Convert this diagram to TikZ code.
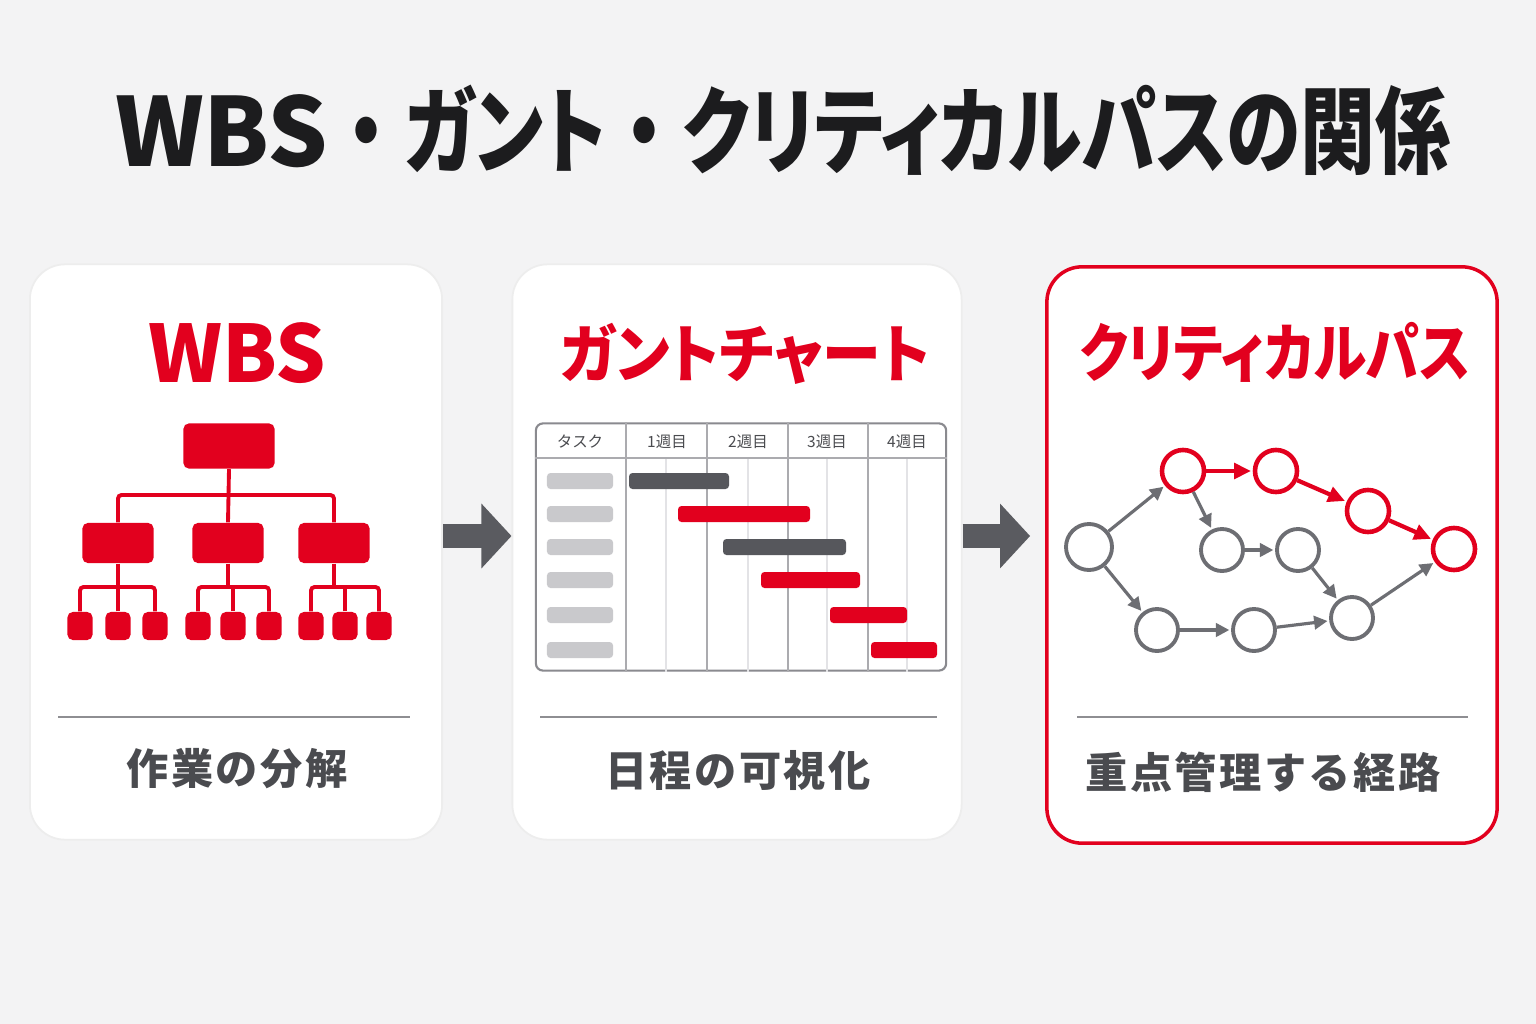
\documentclass[tikz,border=0pt]{standalone}
\usepackage{fontspec}
\usepackage{graphicx}
\setmainfont{Noto Sans CJK JP}
\newfontfamily\jpfont{Noto Sans CJK JP}[RawFeature=+palt]
\newfontfamily\capfont{Noto Sans CJK JP}[LetterSpace=6]
\usepackage{tikz}
\usetikzlibrary{arrows.meta,positioning}
\definecolor{pagebg}{HTML}{F3F3F4}
\definecolor{brandred}{HTML}{E2001E}
\definecolor{titleink}{HTML}{1C1C1E}
\definecolor{capgray}{HTML}{4A4B4F}
\definecolor{sepgray}{HTML}{8E8E92}
\definecolor{nodegray}{HTML}{6D6E73}
\definecolor{bardark}{HTML}{56575C}
\definecolor{phgray}{HTML}{C9C9CC}
\definecolor{gridmaj}{HTML}{ABABAF}
\definecolor{gridmin}{HTML}{E3E3E6}
\definecolor{tablegray}{HTML}{8A8A8F}
\definecolor{arrowgray}{HTML}{5A5B60}
\newcommand\narrowkana[2][0.79]{\scalebox{#1}[1]{#2}}
\newcommand\wdot{\scalebox{0.8}[1]{\rmfamily ・}}

\begin{document}
\begin{tikzpicture}[x=0.01cm, y=-0.01cm,
  panel/.style={draw=black!7, line width=0.5pt, fill=white, rounded corners=10pt, inner sep=0},
  heading/.style={font=\jpfont\bfseries\fontsize{18}{18}\selectfont, text=brandred, anchor=base, inner sep=0},
  caption/.style={font=\capfont\bfseries\fontsize{12}{12}\selectfont, text=capgray, anchor=base, inner sep=0},
  sep/.style={draw=sepgray, line width=0.45pt},
  wbsbox/.style={fill=brandred, rounded corners=1.5pt, inner sep=0},
  tree/.style={draw=brandred, line width=1.1pt, rounded corners=1pt},
  gridline/.style={draw=gridmaj, line width=0.45pt},
  subline/.style={draw=gridmin, line width=0.4pt},
  colhead/.style={font=\fontsize{4.4}{5}\selectfont, text=capgray, inner sep=0},
  taskph/.style={fill=phgray, rounded corners=1pt, minimum width=0.66cm, minimum height=0.16cm, inner sep=0},
  bar/.style={rounded corners=1pt, minimum height=0.16cm, inner sep=0},
  event/.style={circle, draw=nodegray, line width=1.1pt, fill=white, minimum size=0.42cm, inner sep=0},
  crit/.style={event, draw=brandred, line width=1.3pt},
  link/.style={-{Triangle[length=3.8pt,width=3.8pt]}, draw=nodegray, line width=0.9pt, shorten >=0.5pt},
  critlink/.style={-{Triangle[length=4.8pt,width=4.4pt]}, draw=brandred, line width=1.2pt, shorten >=0.5pt},
  flow/.style={draw=arrowgray, line width=0.23cm, -{Triangle[length=0.3cm,width=0.63cm]}}]

\fill[pagebg] (0,0) rectangle (1536,1024);
\useasboundingbox (0,0) rectangle (1536,1024);

\node[font=\jpfont\bfseries\fontsize{27}{27}\selectfont, text=titleink, anchor=base, inner sep=0] (title) at (783,166) {WBS\wdot\narrowkana{ガント}\wdot\narrowkana{クリティカルパスの関係}};

\node[panel, minimum width=4.12cm, minimum height=5.75cm] (p1) at (236,552) {};
\node[panel, minimum width=4.49cm, minimum height=5.75cm] (p2) at (737,552) {};
\node[panel, draw=brandred, line width=1pt, minimum width=4.50cm, minimum height=5.76cm] (p3) at (1272,555) {};

\draw[flow] (p1.east |- 0,536) -- (p2.west |- 0,536);
\draw[flow, shorten >=0.15cm] (p2.east |- 0,536) -- (p3.west |- 0,536);

% WBS
\node[heading, font=\jpfont\bfseries\fontsize{22.5}{22.5}\selectfont] (t1) at (237,382) {WBS};
\node[wbsbox, minimum width=0.91cm, minimum height=0.45cm] (root) at (229,446) {};
\foreach \x [count=\k] in {118,228,334}
  \node[wbsbox, minimum width=0.71cm, minimum height=0.40cm] (m\k) at (\x,543) {};
\foreach \x [count=\k] in {80,118,155,198,233,269,311,345,379}
  \node[wbsbox, minimum width=0.25cm, minimum height=0.28cm] (s\k) at (\x,626) {};
\draw[tree] (root.south) -- (m2.north);
\draw[tree] (m1.north) -- (m1.north |- 0,495) -- (m3.north |- 0,495) -- (m3.north);
\foreach \m/\a/\b/\c in {m1/s1/s2/s3, m2/s4/s5/s6, m3/s7/s8/s9} {
  \draw[tree] (\m.south) -- (\m.south |- 0,587);
  \draw[tree] (\a.north) -- (\a.north |- 0,587) -- (\c.north |- 0,587) -- (\c.north);
  \draw[tree] (\b.north) -- (\b.north |- 0,587);
}
\draw[sep] (58,717) -- (410,717);
\node[caption] (c1) at (237,784) {作業の分解};

% gantt
\node[heading] (t2) at (745,377) {\narrowkana[0.93]{ガントチャート}};
\node[draw=tablegray, line width=0.6pt, rounded corners=2pt, fill=white, minimum width=4.1cm, minimum height=2.47cm, inner sep=0] (chart) at (741,547) {};
\foreach \x in {666,748,827,907}
  \draw[subline] (chart.south -| \x,0) -- (\x,458);
\draw[gridline] (chart.west |- 0,458) -- (chart.east |- 0,458);
\foreach \x in {626,707,788,868}
  \draw[gridline] (chart.north -| \x,0) -- (chart.south -| \x,0);
\foreach \t/\x [count=\k] in {タスク/580, 1週目/667, 2週目/748, 3週目/827, 4週目/907}
  \node[colhead] (hd\k) at (\x,442) {\t};
\foreach \y [count=\k] in {481,514,547,580,615,650}
  \node[taskph] (task\k) at (580,\y) {};
\foreach \a/\b/\y/\c [count=\k] in {629/729/481/bardark, 678/810/514/brandred, 723/846/547/bardark, 761/860/580/brandred, 830/907/615/brandred, 871/937/650/brandred}
  \node[bar, fill=\c, minimum width={(\b-\a)*0.01cm}] (bar\k) at ({(\a+\b)/2},\y) {};
\draw[sep] (540,717) -- (937,717);
\node[caption] (c2) at (738,786) {日程の可視化};

% critical path
\node[heading] (t3) at (1275,376) {\narrowkana[0.85]{クリティカルパス}};
\node[event, minimum size=0.46cm] (a) at (1089,547) {};
\node[crit] (b) at (1183,471) {};
\node[crit] (c) at (1276,471) {};
\node[crit] (d) at (1368,511) {};
\node[crit] (e) at (1454,549) {};
\node[event] (f) at (1222,550) {};
\node[event] (g) at (1298,550) {};
\node[event] (h) at (1157,630) {};
\node[event] (i) at (1254,630) {};
\node[event] (j) at (1352,618) {};
\foreach \u/\v in {a/b, a/h, b/f, f/g, g/j, h/i, i/j, j/e}
  \draw[link] (\u) -- (\v);
\foreach \u/\v in {b/c, c/d, d/e}
  \draw[critlink] (\u) -- (\v);
\draw[sep] (1077,717) -- (1468,717);
\node[caption] (c3) at (1263,788) {重点管理する経路};
\end{tikzpicture}
\end{document}
